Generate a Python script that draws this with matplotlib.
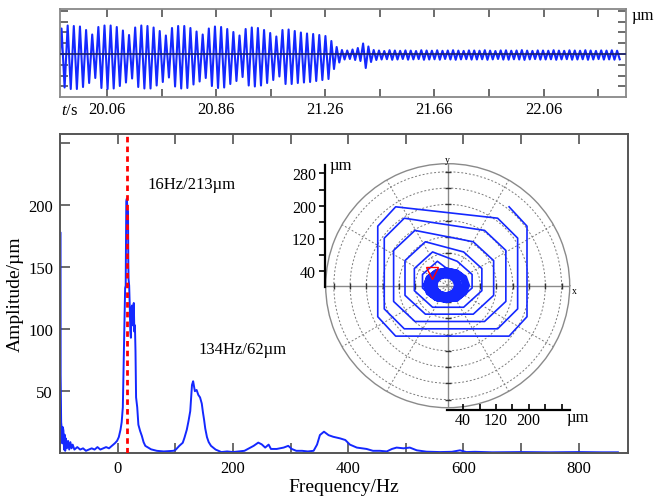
import numpy as np
import matplotlib
matplotlib.use('Agg')
import matplotlib.pyplot as plt

plt.rcParams['font.family'] = ['Liberation Serif', 'DejaVu Serif']
plt.rcParams['mathtext.fontset'] = 'custom'
plt.rcParams['mathtext.rm'] = 'Liberation Serif'
plt.rcParams['mathtext.it'] = 'Liberation Serif:italic'

# --- time record (top strip): crest / trough of every cycle, um ---
t_start = 20.287
big_period = 0.0225
tail_period = 0.0194
big_hi = [255, 285, 280, 275, 240, 195, 270,
          285, 285, 270, 235, 190, 265, 285,
          280, 265, 230, 185, 260, 280, 280,
          260, 225, 195, 255, 275, 270, 250,
          220, 185, 250, 265, 260, 240, 210,
          175, 240, 245, 230, 215, 205, 200, 190, 180]
big_lo = [-335, -350, -350, -330, -290, -240, -340,
          -350, -345, -320, -285, -245, -330, -345,
          -345, -315, -280, -235, -325, -345, -340,
          -305, -275, -240, -320, -340, -335, -300,
          -270, -230, -315, -325, -315, -290, -260,
          -225, -300, -300, -290, -285, -280, -270, -260, -250]
tail_hi = [130, 70, 40, 35, 45, 60, 105, 75, 40, 35, 30, 38, 35, 32, 36, 34,
           30, 38, 35, 33, 37, 32, 35, 38, 34, 31, 36, 35, 33, 38, 34, 30,
           36, 37, 33, 35, 39, 34, 31, 36, 35, 33, 38, 34, 32, 37, 35, 33,
           38, 35, 31, 36, 34, 37, 33]
tail_lo = [-150, -85, -55, -50, -60, -70, -140, -80, -60, -55, -52, -58, -55, -50, -57, -54,
           -51, -58, -55, -53, -57, -50, -55, -58, -54, -52, -56, -55, -53, -58, -54, -50,
           -56, -57, -53, -55, -59, -54, -51, -56, -55, -53, -58, -54, -52, -57, -55, -53,
           -58, -55, -51, -56, -54, -57, -53]
time_ticks = [20.46, 20.66, 20.86, 21.06, 21.26, 21.46, 21.66, 21.86, 22.06, 22.26]
time_labels = ['20.06', '', '20.86', '', '21.26', '', '21.66', '', '22.06', '']
strip_yticks = [-324, -216, -108, 0, 108, 216, 324, 432]

# --- amplitude spectrum (Hz, um) ---
spectrum = [(-100, 0), (-99.5, 178), (-99, 63), (-98, 25), (-97, 20), (-96, 8), (-95, 21),
            (-94, 18), (-93, 3), (-92, 15), (-91, 2), (-90, 12), (-88, 4), (-86, 10),
            (-84, 3), (-82, 9), (-80, 4), (-78, 7), (-75, 3), (-70, 5), (-65, 3), (-60, 4),
            (-55, 2), (-50, 3), (-45, 4), (-40, 3), (-35, 5), (-30, 3), (-25, 4), (-20, 5),
            (-15, 4), (-10, 6), (-5, 8), (-1, 10), (2, 13), (5, 19), (7, 25), (9, 37),
            (10, 60), (11, 85), (12, 110), (13, 133), (14, 135), (15, 203), (16, 205),
            (17, 196), (18, 195), (18.5, 154), (19, 140), (20, 135), (21, 119), (22, 98),
            (23, 93), (24, 117), (25, 119), (26.5, 103), (28, 121), (29, 98), (30, 103),
            (31, 82), (32, 45), (34, 37), (36, 23), (39, 18), (42, 14), (45, 9), (48, 6),
            (53, 4.6), (58, 3.2), (68, 2), (80, 1.5), (97, 2), (101, 3), (107, 6),
            (113, 8.5), (116, 12.6), (120, 19), (123, 26), (126, 34), (129, 55), (131, 58),
            (134, 50), (137, 51), (140, 47), (143, 45), (146, 40), (148, 33), (150, 27),
            (152, 20), (155, 13), (158, 9), (162, 6), (166, 4.5), (170, 3), (175, 2),
            (180, 1), (190, 1.5), (200, 1), (210, 1.5), (220, 2), (228, 4), (236, 6),
            (244, 8.6), (250, 7.2), (256, 4.6), (262, 7), (266, 3.5), (276, 3.5),
            (288, 4.6), (296, 6), (302, 3.5), (310, 2), (320, 2), (330, 1.5), (340, 2),
            (346, 7), (351, 14.7), (358, 17.4), (366, 14.6), (374, 13.3), (386, 12),
            (395, 10.7), (403, 7), (415, 4.6), (432, 3.5), (443, 2), (455, 2), (467, 1.5),
            (476, 3.5), (484, 4.6), (496, 4), (507, 4.6), (519, 2.4), (536, 1.3),
            (559, 1), (580, 1.2), (594, 2.4), (605, 1), (620, 1.2), (650, 0.8), (700, 1),
            (750, 0.8), (800, 1), (840, 0.8), (868, 0.8)]
peak_hz = 16
notes = [(51, 217, '16Hz/213\u00b5m'), (141, 84, '134Hz/62\u00b5m')]

# --- shaft orbit (um): spiral loops as boxes (left, right, bottom, top) ---
orbit_boxes = [(-172, 195, -124, 194), (-156, 172, -106, 166), (-133, 143, -88, 136),
               (-105, 113, -70, 108), (-82, 84, -53, 83), (-62, 60, -38, 60)]
corner_cut = [0.12, 0.15, 0.19, 0.23, 0.27, 0.3]
blob_rx = [56, 52, 54, 49, 51, 46, 48, 43, 45, 40, 42, 37, 39, 34, 36, 31, 33, 28, 30, 26, 24, 22]
blob_ry = [42, 40, 41, 38, 39, 36, 37, 33, 35, 31, 32, 29, 30, 27, 28, 25, 26, 23, 24, 21, 20, 19]
blob_cx = [-3, -5, -4, -6, -3, -5, -6, -4, -5, -6, -3, -5, -6, -4, -5, -6, -4, -5, -6, -5, -4, -5]
blob_cy = [1, 0, 2, -1, 1, 0, 2, 1, -1, 0, 2, 1, 0, -1, 1, 2, 0, 1, 0, 1, 2, 1]
start_mark = (-39, 32)
scale_ticks = [40, 80, 120, 160, 200, 240, 280]
scale_labels_v = ['40', '', '120', '', '200', '', '280']
scale_labels_h = ['40', '', '120', '', '200', '', '']

blue = '#1428ff'
W, H = 656, 502
fig = plt.figure(figsize=(W / 100, H / 100), dpi=100)

# ---------------- top strip ----------------
ax_t = fig.add_axes([60 / W, 1 - 97.7 / H, 565.7 / W, 87.7 / H])
ts, ys = [t_start], [0]
t = t_start
cycles = [(h, l, big_period) for h, l in zip(big_hi, big_lo)] + \
         [(h, l, tail_period) for h, l in zip(tail_hi, tail_lo)]
for h, l, p in cycles:
    ts += [t + 0.25 * p, t + 0.75 * p]
    ys += [h, l]
    t += p
ax_t.plot(ts, ys, color=blue, lw=1.5)
ax_t.axhline(0, color='#1a1f6e', lw=1.2, zorder=3)
ax_t.set_xlim(20.287, 22.361)
ax_t.set_ylim(-427, 450)
ax_t.set_xticks(time_ticks)
ax_t.set_xticklabels(time_labels, fontsize=12)
ax_t.set_yticks(strip_yticks)
ax_t.set_yticklabels([])
ax_t.tick_params(axis='x', direction='in', top=True, length=6, width=1.1, color='#444', pad=3)
ax_t.tick_params(axis='y', direction='in', right=True, length=5.5, width=1.1, color='#444')
for s in ax_t.spines.values():
    s.set_color('#888')
    s.set_linewidth(1.3)
ax_t.annotate(r'$\it{t}$/s', xy=(0, 0), xycoords='axes fraction', xytext=(1, -4),
              textcoords='offset points', ha='left', va='top', fontsize=12)
ax_t.annotate('\u00b5m', xy=(1, 0.93), xycoords='axes fraction', xytext=(4, 0),
              textcoords='offset points', ha='left', va='center', fontsize=12)

# ---------------- spectrum ----------------
ax = fig.add_axes([60 / W, 1 - 454.3 / H, 567.7 / W, 319.3 / H])
freq, amp = np.array(spectrum).T
ax.plot(freq, amp, color=blue, lw=1.4, zorder=2)
ax.axvline(peak_hz, color='red', ls=(0, (2, 1.5)), lw=2, zorder=3)
for x, y, s in notes:
    ax.text(x, y, s, fontsize=12, va='center', ha='left')
ax.set_xlim(-100, 885)
ax.set_ylim(0, 257)
ax.set_xticks([0, 200, 400, 600, 800])
ax.set_xticks([100, 300, 500, 700], minor=True)
ax.set_yticks([50, 100, 150, 200])
ax.set_yticks([250], minor=True)
ax.tick_params(axis='both', which='both', direction='in', length=7, width=1.1,
               color='#444', labelsize=12)
ax.tick_params(axis='x', which='both', top=True, pad=5)
ax.tick_params(axis='y', which='both', pad=5)
ax.set_xlabel('Frequency/Hz', fontsize=14, labelpad=1)
ax.set_ylabel('Amplitude/\u00b5m', fontsize=14, labelpad=3)
for s in ax.spines.values():
    s.set_color('#555')
    s.set_linewidth(1.4)

# ---------------- orbit inset ----------------
rect = [325.7 / W, 1 - 408.7 / H, 244 / W, 244 / H]
axp = fig.add_axes(rect, projection='polar')
axp.set_ylim(0, 300)
axp.set_yticks(scale_ticks)
axp.set_yticklabels([])
axp.set_xticks(np.deg2rad(np.arange(0, 360, 30)))
axp.set_xticklabels([])
axp.tick_params(length=0)
axp.grid(True, color='#7a7a7a', ls=(0, (2, 2)), lw=0.7)
axp.spines['polar'].set_color('#8a8a8a')
axp.spines['polar'].set_linewidth(1.0)

ax_o = fig.add_axes(rect)
ax_o.set_xlim(-300, 300)
ax_o.set_ylim(-300, 300)
ax_o.axis('off')
ax_o.axhline(0, color='#8a8a8a', lw=1.0)
ax_o.axvline(0, color='#8a8a8a', lw=1.0)
r = np.array(scale_ticks)
ax_o.plot(np.r_[r, -r], np.zeros(2 * len(r)), '|', color='#333', ms=4, mew=1)
ax_o.plot(np.zeros(2 * len(r)), np.r_[r, -r], '_', color='#333', ms=4, mew=1)
ax_o.text(1.01, 0.48, 'x', transform=ax_o.transAxes, fontsize=7, ha='left', va='center')
ax_o.text(0.5, 1.0, 'y', transform=ax_o.transAxes, fontsize=7, ha='center', va='bottom')

ox, oy = [], []
for (l, rr, b, tp), c in zip(orbit_boxes, corner_cut):
    dx, dy = c * (rr - l), (c + 0.03) * (tp - b)
    ox += [rr - dx, rr, rr, rr - dx, l + dx, l, l, l + dx]
    oy += [tp, tp - dy, b + dy, b, b, b + dy, tp - dy, tp]
ang = np.linspace(0.5 * np.pi, -1.5 * np.pi, 13)
for rx, ry, cx, cy in zip(blob_rx, blob_ry, blob_cx, blob_cy):
    ox += list(cx + rx * np.cos(ang))
    oy += list(cy + ry * np.sin(ang))
ax_o.plot(ox, oy, color=blue, lw=1.2)
ax_o.plot(*start_mark, marker='v', ms=8, mfc='none', mec='red', mew=1)

# scale bars
ax_v = fig.add_axes([325 / W, 1 - 288.3 / H, 0.004, 122 / H])
ax_v.set_ylim(0, 300)
ax_v.set_yticks(scale_ticks)
ax_v.set_yticklabels(scale_labels_v, fontsize=11.5)
ax_v.set_xticks([])
ax_v.tick_params(axis='y', direction='out', length=4.5, width=1.2, pad=2)
ax_v.patch.set_visible(False)
for k in ['right', 'top', 'bottom']:
    ax_v.spines[k].set_visible(False)
ax_v.spines['left'].set_linewidth(1.6)
ax_v.annotate('\u00b5m', xy=(0, 1), xycoords='axes fraction', xytext=(3, 0),
              textcoords='offset points', ha='left', va='center', fontsize=12)

ax_h = fig.add_axes([446.7 / W, 1 - 410.7 / H, 123 / W, 0.004])
ax_h.set_xlim(0, 300)
ax_h.set_xticks(scale_ticks)
ax_h.set_xticklabels(scale_labels_h, fontsize=11.5)
ax_h.set_yticks([])
ax_h.tick_params(axis='x', direction='in', length=4.5, width=1.2, pad=2)
ax_h.patch.set_visible(False)
for k in ['right', 'top', 'left']:
    ax_h.spines[k].set_visible(False)
ax_h.spines['bottom'].set_linewidth(1.6)
ax_h.annotate('\u00b5m', xy=(1, 0), xycoords='axes fraction', xytext=(-2, -5),
              textcoords='offset points', ha='left', va='center', fontsize=12)

fig.savefig('out.png', dpi=100)
